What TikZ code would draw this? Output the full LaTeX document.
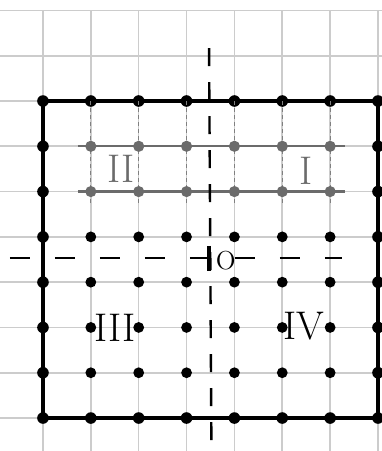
\documentclass[tikz,border=0pt]{standalone}
\usetikzlibrary{positioning}

\begin{document}
\begin{tikzpicture}[
    x=23.93pt, y=-22.645pt,
    gridline/.style={draw=black!20, line width=0.8pt},
    frame/.style={draw=black, line width=1.6pt},
    edgedot/.style={circle, fill=black, inner sep=0pt, minimum size=5.8pt},
    innerdot/.style={circle, fill=black, inner sep=0pt, minimum size=5.4pt},
    greydot/.style={circle, fill=black!58, inner sep=0pt, minimum size=5.6pt},
    band/.style={draw=black!58, line width=1.2pt},
    guide/.style={draw=black!50, line width=0.5pt, dash pattern=on 2pt off 1.5pt},
    axis/.style={draw=black, line width=1.2pt},
    numeral/.style={font=\fontsize{20}{20}\selectfont, inner sep=0pt}
]
\useasboundingbox (-0.898,-2.230) rectangle (7.083,7.728);

% squared paper
\foreach \i in {-1,...,7}
  \draw[gridline] (\i,-2) -- (\i,7.728);
\foreach \j in {-2,...,7}
  \draw[gridline] (-0.898,\j) -- (7.083,\j);

% dots on the border
\foreach \i in {0,...,7} {
  \node[edgedot] (e-\i-0) at (\i,0) {};
  \node[edgedot] (e-\i-7) at (\i,7) {};
}
\foreach \j in {1,...,6} {
  \node[edgedot] (e-0-\j) at (0,\j) {};
  \node[edgedot] (e-7-\j) at (7,\j) {};
}
\draw[frame] (e-0-0.center) -- (e-7-0.center) -- (e-7-7.center)
  -- (e-0-7.center) -- cycle;

% grey strip (I and II)
\foreach \i in {1,...,6}
  \draw[guide] (e-\i-0.center) -- (\i,2.25);
\foreach \j in {1,2} {
  \coordinate (bl-\j) at (0.73,\j);
  \coordinate (br-\j) at (6.31,\j);
  \draw[band] (bl-\j) -- (br-\j);
  \foreach \i in {1,...,6}
    \node[greydot] (g-\i-\j) at (\i,\j) {};
}

% inner black dots
\foreach \j in {3,...,6}
  \foreach \i in {1,...,6}
    \node[innerdot] (d-\i-\j) at (\i,\j) {};

% axes
\coordinate (ytop) at (3.47,-1.17);
\coordinate (ybot) at (3.52,7.728);
\coordinate (xleft) at (-0.69,3.47);
\coordinate (xright) at (6.25,3.47);
\draw[axis, dash pattern=on 9pt off 8pt] (ytop) -- (ybot);
\draw[axis, dash pattern=on 10pt off 12.5pt] (xleft) -- (xright);
\node[font=\fontsize{13}{13}\selectfont, inner sep=0pt] (o) at (3.82,3.52) {O};
\draw[axis, line width=1.6pt] (3.47,3.2) -- (3.47,3.75);

% quadrant numbers
\node[numeral, text=black!58] (q2) at (1.64,1.5) {II};
\node[numeral, text=black!58] (q1) at (5.5,1.55) {I};
\node[numeral] (q3) at (1.5,5.0) {III};
\node[numeral] (q4) at (5.46,4.97) {IV};
\end{tikzpicture}
\end{document}
